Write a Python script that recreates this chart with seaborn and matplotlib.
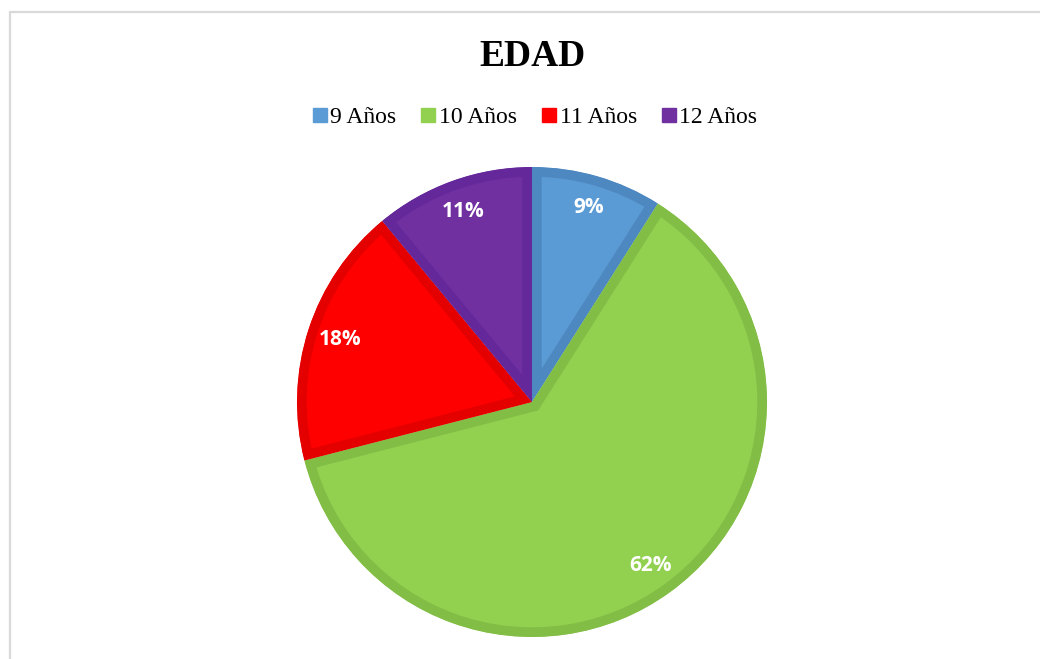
import matplotlib
matplotlib.use("Agg")
import matplotlib.pyplot as plt
import seaborn as sns
from matplotlib.lines import Line2D

categories = ["9 Años", "10 Años", "11 Años", "12 Años"]
values = [9, 62, 18, 11]
fill_colors = ["#5B9BD5", "#92D050", "#FF0000", "#7030A0"]
edge_colors = ["#4E88C0", "#82BD46", "#E50000", "#64289A"]
title = "EDAD"

sns.set_theme(style="white")
plt.rcParams["font.family"] = ["DejaVu Sans"]
plt.rcParams["text.color"] = "black"

W, H = 1040, 659
fig = plt.figure(figsize=(W / 100, H / 100), dpi=100)
fig.patch.set_facecolor("white")

cx, cy, r = 532, 402, 235
pad = 1.05
ax = fig.add_axes([(cx - pad * r) / W, (H - cy - pad * r) / H, 2 * pad * r / W, 2 * pad * r / H])

palette = sns.color_palette(fill_colors)
wedges, texts, autotexts = ax.pie(
    values,
    colors=palette,
    startangle=90,
    counterclock=False,
    radius=1,
    autopct=lambda p: f"{p:.0f}%",
    pctdistance=0.86,
    wedgeprops=dict(linewidth=14, joinstyle="miter"),
    textprops=dict(color="white", fontsize=15, fontweight="bold", family=["Open Sans"]),
)
ax.set_xlim(-pad, pad)
ax.set_ylim(-pad, pad)
ax.set_aspect("equal")
ax.axis("off")

for w, ec in zip(wedges, edge_colors):
    w.set_edgecolor(ec)
    w.set_clip_path(w)
    w.set_clip_on(True)

fig.text(cx / W, 1 - 56 / H, title, ha="center", va="center",
         fontsize=27, fontweight="bold", family=["Liberation Serif"], color="black")

handles = [Line2D([], [], marker="s", linestyle="", markersize=10,
                  markerfacecolor=c, markeredgecolor=c) for c in fill_colors]
leg = fig.legend(handles, categories, loc="center", bbox_to_anchor=(535 / W, 1 - 117 / H),
                 ncol=4, frameon=False, handlelength=0.6, handletextpad=0.15,
                 columnspacing=1.05, prop=dict(family="Liberation Serif", size=17))
for t in leg.get_texts():
    t.set_color("black")

# chart frame (partially visible)
fig.add_artist(Line2D([10 / W, 10 / W], [0, 1 - 12 / H], transform=fig.transFigure,
                      color="#D9D9D9", linewidth=1.6))
fig.add_artist(Line2D([10 / W, 1], [1 - 12 / H, 1 - 12 / H], transform=fig.transFigure,
                      color="#D9D9D9", linewidth=1.6))

fig.savefig("out.png", dpi=100, facecolor="white")
